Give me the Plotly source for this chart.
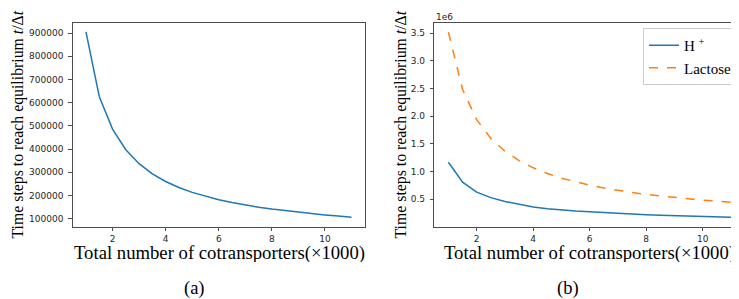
import plotly.graph_objects as go

# ---- data ----
cotransporters = [1, 1.5, 2, 2.5, 3, 3.5, 4, 4.5, 5, 5.5, 6, 6.5, 7, 7.5, 8, 8.5, 9, 9.5, 10, 10.5, 11]

steps_a = [905000, 627000, 486000, 397000, 337000, 293000, 260000, 234000, 213000, 196000,
           181000, 169000, 158000, 149000, 141000, 134000, 127000, 121000, 116000, 111000, 106000]

steps_h = [1170000, 810000, 630000, 530000, 460000, 405000, 362000, 330000, 305000, 288000,
           273000, 258000, 245000, 233000, 222000, 212000, 203000, 195000, 188000, 180000, 175000]

steps_lac = [3520000, 2484000, 1939000, 1600000, 1369000, 1199000, 1069000, 966000, 882000, 813000,
             754000, 704000, 661000, 623000, 589000, 559000, 532000, 508000, 486000, 466000, 446000]

xticks = [2, 4, 6, 8, 10]
yticks_a = [100000, 200000, 300000, 400000, 500000, 600000, 700000, 800000, 900000]
yticks_b = [500000, 1000000, 1500000, 2000000, 2500000, 3000000, 3500000]
yticklabels_b = ["0.5", "1.0", "1.5", "2.0", "2.5", "3.0", "3.5"]

BLUE = "#1f77b4"
ORANGE = "#ff7f0e"
SPINE = "#4d4d4d"
TICKFONT = dict(family="DejaVu Sans", size=9, color="#262626")
SERIF = "Liberation Serif"

# page body has an 8px margin: the figure starts 8px right and down
OFF = 8
W, H = 739 - OFF, 299 - OFF

def px(x):
    return (x - OFF) / W

def py(y):
    return 1 - (y - OFF) / H

fig = go.Figure()

fig.add_trace(go.Scatter(x=cotransporters, y=steps_a, mode="lines",
                         line=dict(color=BLUE, width=1.5), showlegend=False,
                         xaxis="x", yaxis="y"))
fig.add_trace(go.Scatter(x=cotransporters, y=steps_h, mode="lines", name="H <sup>+</sup>",
                         line=dict(color=BLUE, width=1.5), xaxis="x2", yaxis="y2"))
fig.add_trace(go.Scatter(x=cotransporters, y=steps_lac, mode="lines", name="Lactose",
                         line=dict(color=ORANGE, width=1.5, dash="dash"), xaxis="x2", yaxis="y2"))

ydom = [py(226.7), py(22.7)]

common_x = dict(showgrid=False, zeroline=False, showline=True, linecolor=SPINE, linewidth=1,
                ticks="outside", ticklen=3.5, tickwidth=1, tickcolor=SPINE,
                tickfont=TICKFONT, tickvals=xticks, mirror=True)
common_y = dict(showgrid=False, zeroline=False, showline=True, linecolor=SPINE, linewidth=1,
                ticks="outside", ticklen=3.5, tickwidth=1, tickcolor=SPINE,
                tickfont=TICKFONT, ticklabelstandoff=3)

fig.update_layout(
    width=W, height=H,
    margin=dict(l=0, r=0, t=0, b=0),
    paper_bgcolor="white", plot_bgcolor="white",
    xaxis=dict(domain=[px(72.7), px(364.8)], range=[0.5, 11.5], anchor="y", **common_x),
    yaxis=dict(domain=ydom, range=[65000, 945000], anchor="x", tickvals=yticks_a,
               ticktext=[str(v) for v in yticks_a], mirror=True, **common_y),
    xaxis2=dict(domain=[px(434.3), 1.0], range=[0.5, 11.286], anchor="y2", **common_x),
    yaxis2=dict(domain=ydom, range=[5000, 3690000], anchor="x2", tickvals=yticks_b,
                ticktext=yticklabels_b, **common_y),
    legend=dict(x=px(737), y=py(28), xanchor="right", yanchor="top",
                bgcolor="white", bordercolor="#cccccc", borderwidth=1,
                font=dict(family=SERIF, size=15, color="#000"),
                tracegroupgap=0, itemwidth=30),
)

ann = []
ytitle = "Time steps to reach equilibrium <i>t</i>/Δ<i>t</i>"
xtitle = "Total number of cotransporters(×1000)"
for xc in (17, 400):
    ann.append(dict(x=px(xc), y=py(124.5), xref="paper", yref="paper", text=ytitle,
                    textangle=-90, showarrow=False, xanchor="center", yanchor="middle",
                    font=dict(family=SERIF, size=15.8, color="#000")))
for xc in (219.5, 589):
    ann.append(dict(x=px(xc), y=py(253), xref="paper", yref="paper", text=xtitle,
                    showarrow=False, xanchor="center", yanchor="middle", height=18,
                    font=dict(family=SERIF, size=18.7, color="#000")))
for xc, lab in ((194, "(a)"), (568, "(b)")):
    ann.append(dict(x=px(xc), y=py(288), xref="paper", yref="paper", text=lab,
                    showarrow=False, xanchor="center", yanchor="middle",
                    font=dict(family=SERIF, size=18.5, color="#000")))
ann.append(dict(x=px(434), y=py(17), xref="paper", yref="paper", text="1e6",
                showarrow=False, xanchor="left", yanchor="middle", font=TICKFONT))
fig.update_layout(annotations=ann)

fig.write_html("out.html")
